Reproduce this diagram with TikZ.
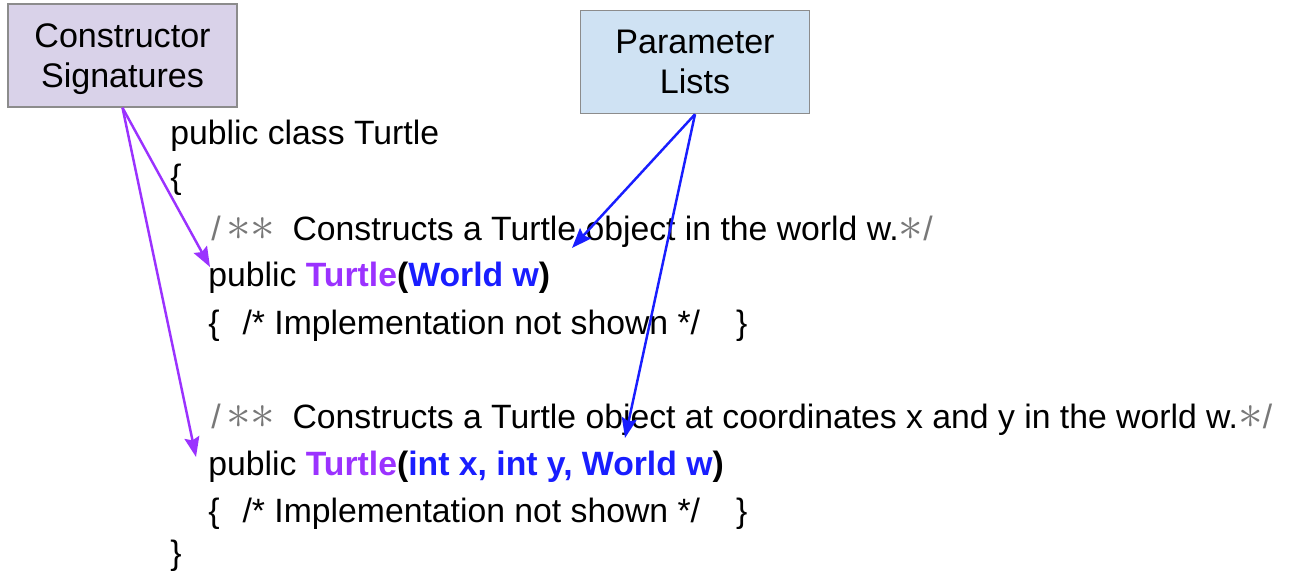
\documentclass[tikz,border=0pt]{standalone}
\usepackage{fontspec}
\usepackage{graphicx}
\setmainfont{Liberation Sans}
\usetikzlibrary{arrows.meta}

\definecolor{sigpurple}{RGB}{155,50,255}
\definecolor{parblue}{RGB}{25,30,255}
\definecolor{sigfill}{RGB}{217,210,233}
\definecolor{parfill}{RGB}{207,226,243}
\definecolor{boxline}{RGB}{140,140,140}
\definecolor{cmtgray}{RGB}{120,120,120}

% constructor name, parameter list, javadoc comment
\newcommand{\tname}[1]{\textbf{\textcolor{sigpurple}{#1}}}
\newcommand{\tpar}[1]{\textbf{\textcolor{parblue}{#1}}}
\newcommand{\jdoc}[1]{\textcolor{cmtgray}{/\,\scalebox{1.35}{$\ast\ast$}}\hspace{0.34cm}#1\textcolor{cmtgray}{\scalebox{1.35}{$\ast$}/}}
\newcommand{\nobody}{\{\hspace{0.46cm}/* Implementation not shown */\hspace{0.72cm}\}}

\begin{document}
\begin{tikzpicture}[x=0.02cm,y=-0.02cm,
  callout/.style={rectangle,draw=boxline,line width=0.9pt,align=center,
    minimum width=4.58cm,minimum height=2.06cm,inner sep=0pt,
    font=\fontsize{19.4pt}{23pt}\selectfont},
  code/.style={anchor=base west,inner sep=0pt,font=\fontsize{19.2pt}{23pt}\selectfont},
  sigarrow/.style={draw=sigpurple,line width=1.4pt,-{Stealth[length=0.4cm,width=0.3cm,inset=0.06cm]}},
  pararrow/.style={draw=parblue,line width=1.4pt,-{Stealth[length=0.4cm,width=0.3cm,inset=0.06cm]}}]
\useasboundingbox (0,0) rectangle (1291,577);

\path (122.5,55.5) node[callout,fill=sigfill,text depth=0pt] (csig) {Constructor\\Signatures};
\path (695,62) node[callout,fill=parfill] (plist) {Parameter\\Lists};

% the class
\path (170,145) node[code] (cls) {public class Turtle};
\path (170,189) node[code] (open) {\{};
\path (211,241) node[code] (doc1) {\jdoc{Constructs a Turtle object in the world w.}};
\path (208,287) node[code] (sig1) {public \tname{Turtle}\textbf{(}\tpar{World w}\textbf{)}};
\path (208,335) node[code] (body1) {\nobody};
\path (211,428) node[code] (doc2) {\jdoc{Constructs a Turtle object at coordinates x and y in the world w.}};
\path (208,475) node[code] (sig2) {public \tname{Turtle}\textbf{(}\tpar{int x, int y, World w}\textbf{)}};
\path (208,522) node[code] (body2) {\nobody};
\path (170,564) node[code] (close) {\}};

% arrow ends
\coordinate (sig1tip) at (210,267);
\coordinate (sig2tip) at (196,457);
\coordinate (par1tip) at (572,248);
\coordinate (par2tip) at (625,438);

\draw[sigarrow] (csig.south) -- (sig1tip);
\draw[sigarrow] (csig.south) -- (sig2tip);
\draw[pararrow] (plist.south) -- (par1tip);
\draw[pararrow] (plist.south) -- (par2tip);
\end{tikzpicture}
\end{document}
